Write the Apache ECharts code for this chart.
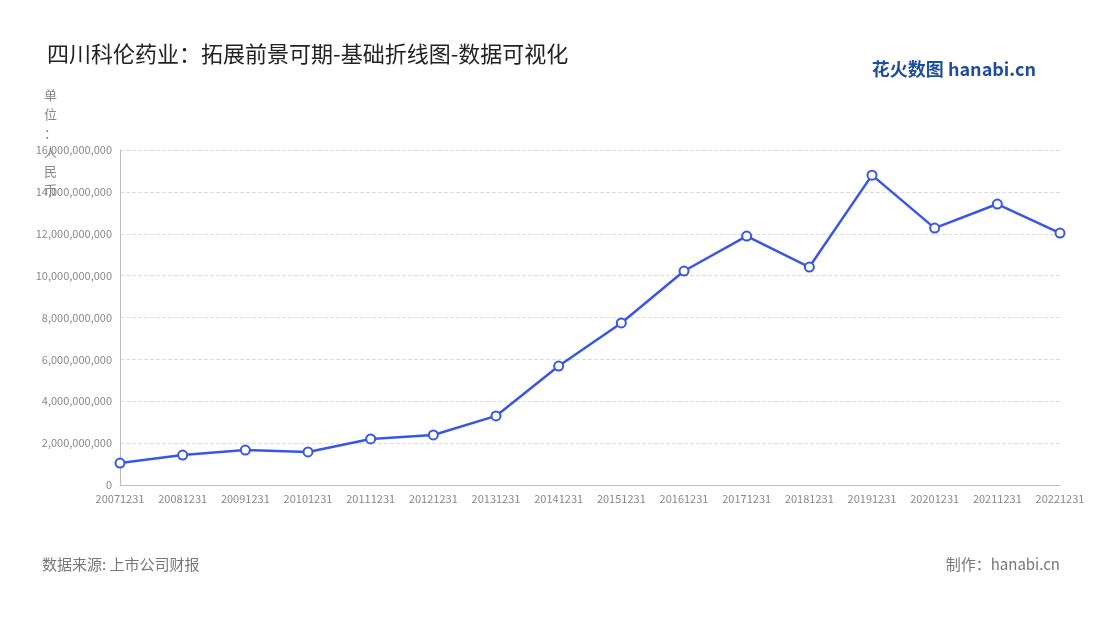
<!DOCTYPE html>
<html><head><meta charset="utf-8">
<script src="https://cdn.jsdelivr.net/npm/echarts@6/dist/echarts.min.js"></script>
<style>html,body{margin:0;padding:0;background:#fff}#c{width:1100px;height:620px}</style>
</head><body><div id="c"></div>
<script>
const categories = ['20071231','20081231','20091231','20101231','20111231','20121231','20131231','20141231','20151231','20161231','20171231','20181231','20191231','20201231','20211231','20221231'];
const values = [1.05e9,1.43e9,1.67e9,1.58e9,2.2e9,2.39e9,3.3e9,5.68e9,7.74e9,10.22e9,11.89e9,10.41e9,14.8e9,12.27e9,13.42e9,12.03e9];
const chart = echarts.init(document.getElementById('c'));
const font = '"Noto Sans CJK SC","Noto Sans",sans-serif';
chart.setOption({
  animation:false,
  textStyle:{fontFamily:font},
  title:[{text:'四川科伦药业：拓展前景可期-基础折线图-数据可视化',left:42,top:38,textStyle:{fontSize:22,fontWeight:'normal',color:'#222',fontFamily:font}}],
  graphic:[
    {type:'text',left:44,top:86,style:{text:'单\n位\n：\n人\n民\n币',fill:'#888',font:'13px '+font,lineHeight:19}},
    {type:'text',left:42,top:557,style:{text:'数据来源: 上市公司财报',fill:'#777',font:'15px '+font}},
    {type:'text',right:40,top:557,style:{text:'制作：hanabi.cn',fill:'#777',font:'15px '+font}},
    {type:'text',right:64,top:60,style:{text:'花火数图 hanabi.cn',fill:'#1f4e9c',font:'bold 18px '+font}}
  ],
  grid:{left:120,right:40,top:150,bottom:135},
  xAxis:{type:'category',data:categories,boundaryGap:false,
    axisLine:{lineStyle:{color:'#bbb'}},axisTick:{show:false},
    axisLabel:{color:'#888',fontSize:11,interval:0}},
  yAxis:{type:'value',min:0,max:16e9,interval:2e9,
    axisLine:{show:true,lineStyle:{color:'#bbb'}},
    axisLabel:{color:'#888',fontSize:11,formatter:v=>v.toLocaleString('en-US')},
    splitLine:{lineStyle:{type:'dashed',color:'#ddd'}}},
  series:[{type:'line',data:values,symbol:'circle',symbolSize:9,
    lineStyle:{color:'#3a56e4',width:2.5},
    itemStyle:{color:'#fff',borderColor:'#3a56e4',borderWidth:2}}]
});
</script></body></html>
